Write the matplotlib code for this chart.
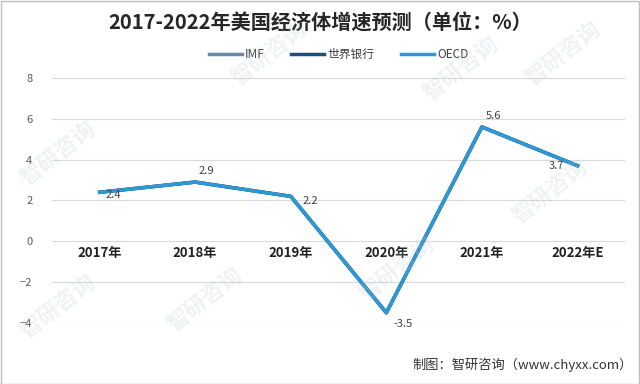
import matplotlib.pyplot as plt
import numpy as np

plt.rcParams['font.family'] = ['Noto Sans CJK SC', 'DejaVu Sans']

years = ['2017年', '2018年', '2019年', '2020年', '2021年', '2022年E']
imf = [2.4, 2.9, 2.2, -3.5, 5.6, 3.7]
world_bank = [2.4, 2.9, 2.2, -3.5, 5.6, 3.7]
oecd = [2.4, 2.9, 2.2, -3.5, 5.6, 3.7]
y_ticks = [-4, -2, 0, 2, 4, 6, 8]

fig = plt.figure(figsize=(6.4, 3.84), dpi=100)
ax = fig.add_axes([0.081, 0.159, 0.896, 0.638])

x = np.arange(len(years))
ax.plot(x, imf, color='#6a8aac', lw=2.5, label='IMF')
ax.plot(x, world_bank, color='#1f4e79', lw=2.5, label='世界银行')
ax.plot(x, oecd, color='#2e98d4', lw=2.5, label='OECD')

# data labels
offsets = [(10, -2), (8, 8), (14, -3), (12, -8), (8, 8), (-15, 0)]
for xi, v, (dx, dy) in zip(x, oecd, offsets):
    ax.annotate(f'{v:g}', (xi, v), xytext=(dx, dy), textcoords='offset points',
                ha='center', va='center', fontsize=8, color='#404040')

# category labels sitting under the zero line
for xi, lab in zip(x, years):
    ax.text(xi, -0.55, lab, ha='center', va='center', fontsize=9.5,
            fontweight='bold', color='#222222')

ax.set_xlim(-0.5, len(years) - 0.5)
ax.set_ylim(-4, 8)
ax.set_yticks(y_ticks)
ax.set_xticks([])
ax.tick_params(axis='y', length=0, labelsize=8, labelcolor='#595959', pad=14)
ax.grid(axis='y', color='#d9d9d9', lw=0.8)
ax.set_axisbelow(True)
for s in ax.spines.values():
    s.set_visible(False)

fig.text(0.5, 0.94, '2017-2022年美国经济体增速预测（单位：%）', ha='center', va='center',
         fontsize=14.5, fontweight='bold', color='#262626')
ax.legend(loc='center', bbox_to_anchor=(0.5, 1.095), ncol=3, frameon=False,
          fontsize=8.5, handlelength=2.8, columnspacing=2.2, handletextpad=0.3,
          labelcolor='#404040')

fig.text(0.988, 0.05, '制图：智研咨询（www.chyxx.com）', ha='right', va='center',
         fontsize=9.5, color='#333333')

# faint watermarks
for wx, wy in [(0.09, 0.2), (0.09, 0.6), (0.42, 0.86), (0.32, 0.22),
               (0.72, 0.82), (0.86, 0.5), (0.62, 0.3), (0.88, 0.86)]:
    fig.text(wx, wy, '智研咨询', fontsize=16, rotation=38, color='#b8c4d0',
             alpha=0.22, ha='center', va='center', fontweight='bold')

fig.patches.append(plt.Rectangle((0.001, 0.001), 0.997, 0.997, transform=fig.transFigure,
                                 fill=False, edgecolor='#bfbfbf', lw=1))

fig.savefig('out.png', dpi=100)
